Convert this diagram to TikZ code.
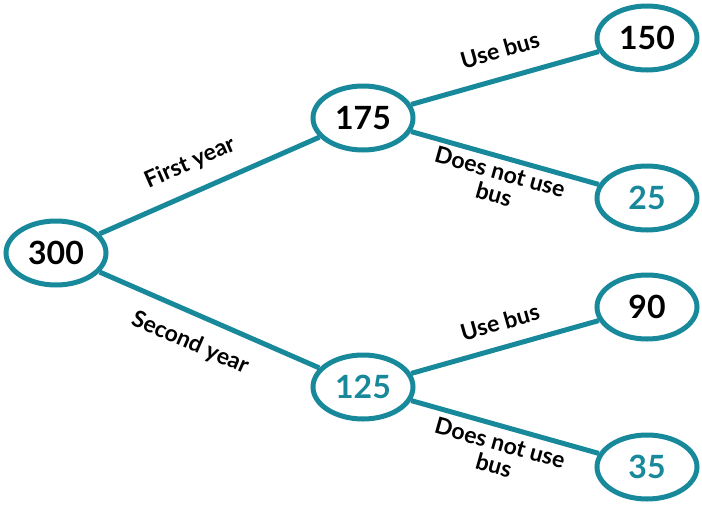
\documentclass[tikz,border=0pt]{standalone}
\usepackage{fontspec}
\setmainfont{Lato}
\usetikzlibrary{shapes.geometric}
\definecolor{teal1}{HTML}{17899A}
\tikzset{
 nd/.style={ellipse,draw=teal1,line width=5pt,fill=white,minimum width=100pt,minimum height=64pt,inner sep=0pt,font=\fontsize{32}{32}\selectfont\bfseries},
 ln/.style={draw=teal1,line width=5pt},
 lb/.style={font=\fontsize{23}{23}\selectfont\bfseries,align=center}
}
\begin{document}
\begin{tikzpicture}[x=1pt,y=-1pt]
\useasboundingbox (0,0) rectangle (702,515);
\node[nd] (a) at (56,253) {300};
\node[nd] (b) at (363,118) {175};
\node[nd] (c) at (363,387) {\textcolor{teal1}{125}};
\node[nd] (d) at (647,38) {150};
\node[nd] (e) at (647,198) {\textcolor{teal1}{25}};
\node[nd] (f) at (647,307) {90};
\node[nd] (g) at (647,467) {\textcolor{teal1}{35}};
\draw[ln] (a) -- (b);
\draw[ln] (a) -- (c);
\draw[ln] (b) -- (d);
\draw[ln] (b) -- (e);
\draw[ln] (c) -- (f);
\draw[ln] (c) -- (g);
\node[lb,rotate=23.6] (l1) at (190,163) {First year};
\node[lb,rotate=-23.6] (l2) at (190,343) {Second year};
\node[lb,rotate=15.7] (l3) at (500,50) {Use bus};
\node[lb,rotate=-15.7] (l4) at (497,183) {Does not use\\bus};
\node[lb,rotate=15.7] (l5) at (500,322) {Use bus};
\node[lb,rotate=-15.7] (l6) at (497,454) {Does not use\\bus};
\end{tikzpicture}
\end{document}
